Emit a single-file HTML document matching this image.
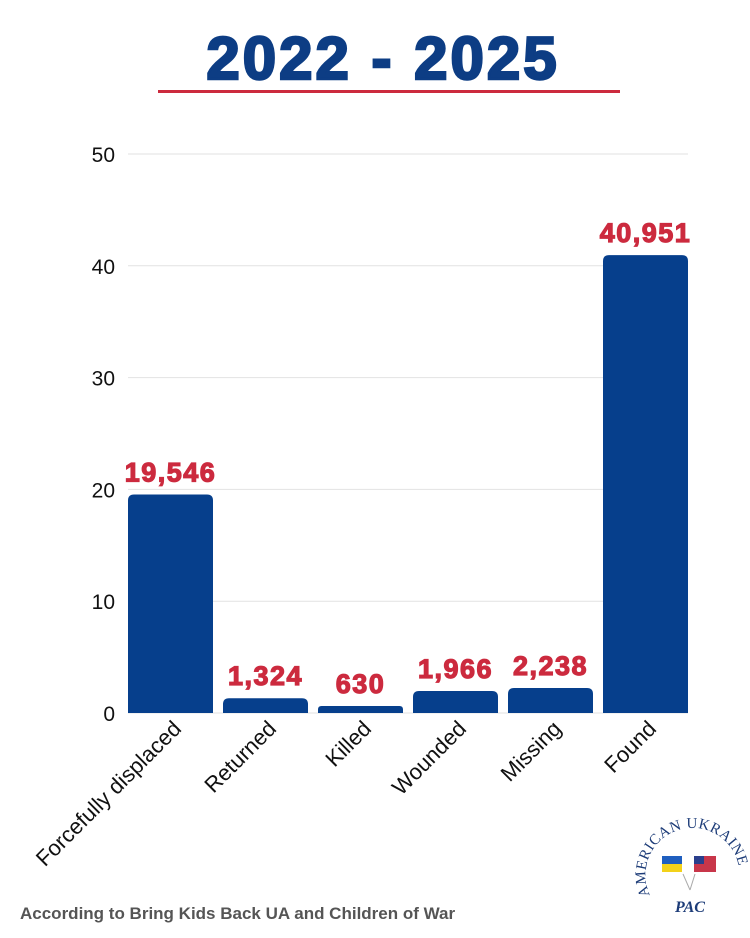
<!DOCTYPE html>
<html><head><meta charset="utf-8"><style>
body{margin:0;background:#fff;}
svg{display:block;}
</style></head><body>
<svg id="chart" width="750" height="938" xmlns="http://www.w3.org/2000/svg">
<text x="383" y="79" text-anchor="middle" font-family="Liberation Sans, sans-serif" font-weight="900" font-size="60" letter-spacing="3" fill="#0d3d84" stroke="#0d3d84" stroke-width="2.5">2022 - 2025</text>
<rect x="158" y="90" width="462" height="3" fill="#cc2a3e"/>
<g id="grid"></g><g id="bars"></g><g id="labels"></g>
<text x="20" y="919" font-family="Liberation Sans, sans-serif" font-weight="bold" font-size="17" fill="#555">According to Bring Kids Back UA and Children of War</text>
<g>
<defs><path id="arc" d="M 650 895 A 47 47 0 1 1 735 895"/></defs>
<text font-family="Liberation Serif, serif" font-size="15" fill="#1d3c78" letter-spacing="0.5"><textPath href="#arc">AMERICAN UKRAINE</textPath></text>
<rect x="662" y="856" width="20" height="8" fill="#1f5fbf"/><rect x="662" y="864" width="20" height="8" fill="#f3d21a"/>
<rect x="694" y="856" width="22" height="16" fill="#c8364a"/><rect x="694" y="856" width="10" height="8" fill="#2a3f8c"/>
<line x1="683" y1="874" x2="690" y2="890" stroke="#aaa"/><line x1="695" y1="874" x2="690" y2="890" stroke="#aaa"/>
<text x="690" y="912" text-anchor="middle" font-family="Liberation Serif, serif" font-style="italic" font-weight="bold" font-size="16" fill="#1d3c78">PAC</text>
</g>
</svg>
<script>
const categories=["Forcefully displaced","Returned","Killed","Wounded","Missing","Found"];
const values=[19.546,1.324,0.630,1.966,2.238,40.951];
const valueLabels=["19,546","1,324","630","1,966","2,238","40,951"];
const yTicks=[0,10,20,30,40,50];
const NS="http://www.w3.org/2000/svg";
const y0=713,yTop=154,xL=128,step=95,bw=85;
const yS=v=>y0-(v/50)*(y0-yTop);
const xS=i=>xL+i*step;
function mk(t,a,p){const e=document.createElementNS(NS,t);for(const k in a)e.setAttribute(k,a[k]);p.appendChild(e);return e;}
const grid=document.getElementById('grid'),bars=document.getElementById('bars'),labels=document.getElementById('labels');
yTicks.forEach(t=>{
const l=mk('line',{x1:128,x2:688,y1:yS(t),y2:yS(t),stroke:'#e2e2e2','stroke-width':1},grid);


const tx=mk('text',{x:115,y:yS(t)+8,'text-anchor':'end','font-family':'Liberation Sans, sans-serif','font-size':21,fill:'#111'},grid);
tx.textContent=t;


});
values.forEach((v,i)=>{
const x=xS(i),y=yS(v),h=y0-y,r=Math.min(6,h/2);
const p=mk('path',{d:`M${x} ${y0} V${y+r} Q${x} ${y} ${x+r} ${y} H${x+bw-r} Q${x+bw} ${y} ${x+bw} ${y+r} V${y0} Z`,fill:'#063f8c'},bars);


const vl=mk('text',{x:x+bw/2,y:y-13,'text-anchor':'middle','font-family':'Liberation Sans, sans-serif','font-weight':'900','font-size':27,'letter-spacing':1.5,fill:'#cc2a3e',stroke:'#cc2a3e','stroke-width':1.2},labels);
vl.textContent=valueLabels[i];


const cx=x+bw/2+12,cy=730;
const cl=mk('text',{x:cx,y:cy,'text-anchor':'end','font-family':'Liberation Sans, sans-serif','font-size':22,fill:'#111',transform:`rotate(-45 ${cx} ${cy})`},labels);
cl.textContent=categories[i];


});
</script>
</body></html>
